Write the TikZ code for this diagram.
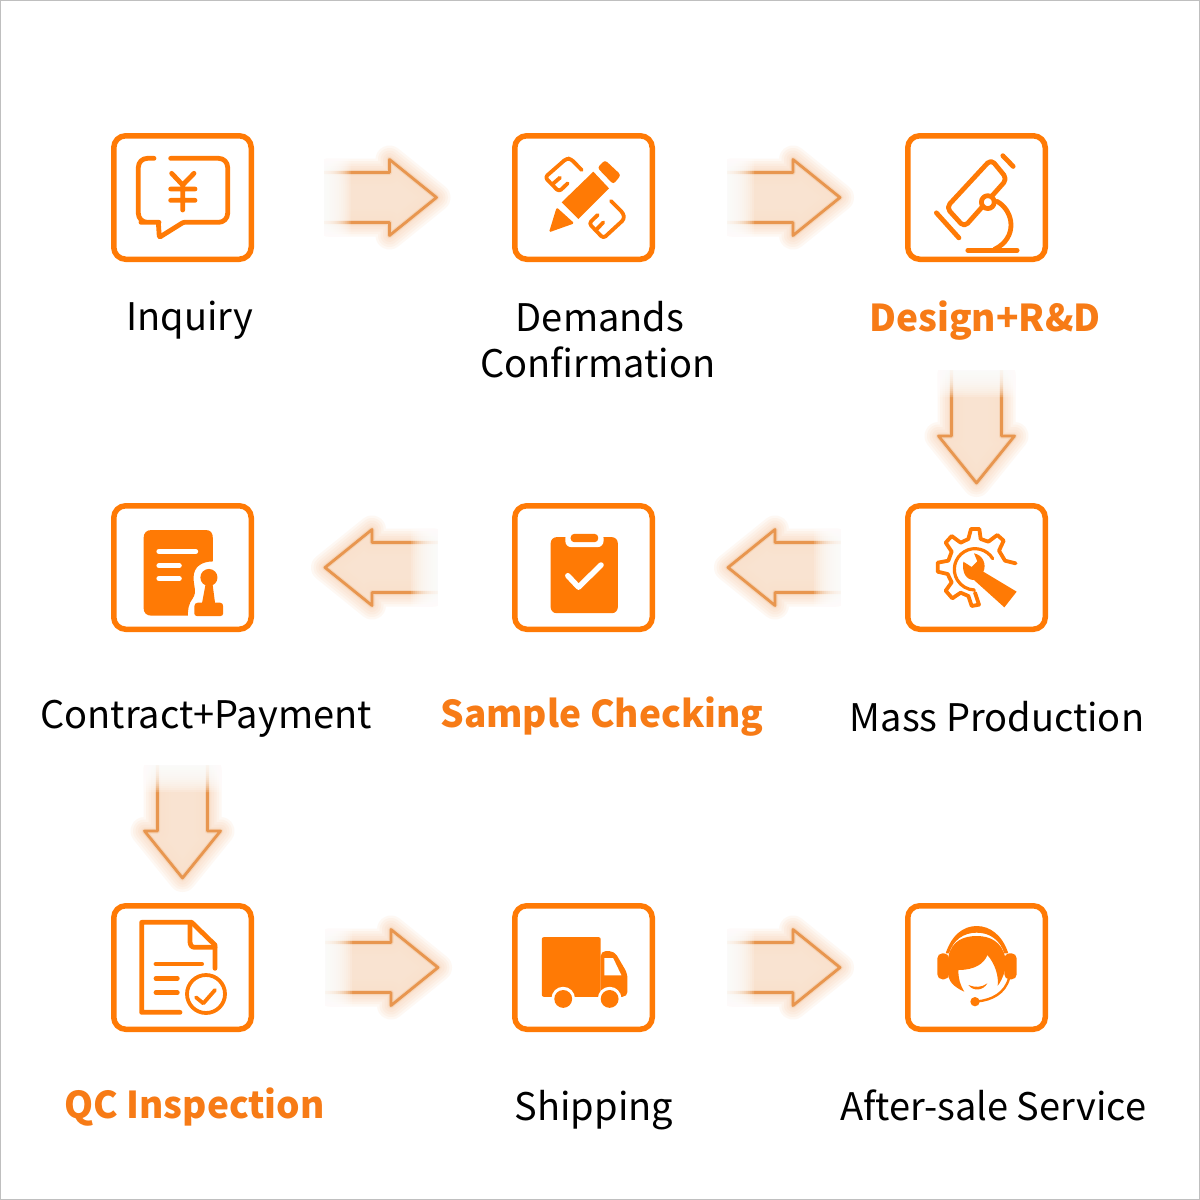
\documentclass[tikz,border=0pt]{standalone}
\usepackage{fontspec}
\setmainfont{Noto Sans CJK SC}
\usetikzlibrary{calc}
\definecolor{org}{HTML}{FF7A05}
\definecolor{txtorg}{HTML}{F77B16}
\definecolor{arrline}{HTML}{E8964F}
\definecolor{arrfill}{HTML}{F9E1CD}
\definecolor{arrglow}{HTML}{F6C49A}
\tikzset{
  iconbox/.style={draw=org,line width=5.5pt,rounded corners=12pt,minimum width=137.5pt,minimum height=123.5pt,inner sep=0pt,fill=white},
  lbl/.style={anchor=base,inner sep=0pt,text=black,font=\fontsize{38}{38}\selectfont},
  lblhot/.style={anchor=base,inner sep=0pt,text=txtorg,font=\fontsize{37}{37}\selectfont\bfseries},
  ln/.style={draw=org,line width=4.8pt,line cap=round,line join=round},
  thinln/.style={draw=org,line width=3.8pt,line cap=round,line join=round},
  wht/.style={draw=white,line width=4pt,line cap=round,line join=round},
}
\newcommand\arrowoutline{(-52,-25) -- (9,-25) -- (9,-38) -- (56,0) -- (9,38) -- (9,25) -- (-52,25)}
% block arrow between two named boxes: from, to, rotation, offset along it
\newcommand\blockarrow[4]{%
  \begin{scope}[shift={($(#1)!.5!(#2)$)},rotate=#3,shift={(#4,0)}]
    \foreach \w in {28,23,18,13,8}{\draw[arrglow,line width=\w pt,opacity=.11,line join=round] \arrowoutline -- cycle;}
    \fill[arrfill,opacity=.9] \arrowoutline -- cycle;
    \draw[arrline!60!white,line width=5pt,opacity=.4,line join=round] (-60,-25) -- (9,-25) -- (9,-38) -- (56,0) -- (9,38) -- (9,25) -- (-60,25);
    \draw[arrline,line width=2.8pt,line join=round] (-60,-25) -- (9,-25) -- (9,-38) -- (56,0) -- (9,38) -- (9,25) -- (-60,25);
    \fill[white] (-85,-62) rectangle (-57,62);
    \foreach \k in {0,2,...,26}{\fill[white,opacity=.17] (-57.5,-62) rectangle (-56+\k,-40) (-57.5,-40) rectangle (-56+\k,40) (-57.5,40) rectangle (-56+\k,62);}
  \end{scope}}
\begin{document}
\begin{tikzpicture}[x=1pt,y=-1pt]
\useasboundingbox (0,0) rectangle (1200,1200);
\fill[white] (0,0) rectangle (1200,1200);
\draw[black!25,line width=2pt] (0,0) rectangle (1200,1200);

% boxes
\node[iconbox] (b1) at (182.5,197.5) {};
\node[iconbox] (b2) at (583.5,197.5) {};
\node[iconbox] (b3) at (976.5,197.5) {};
\node[iconbox] (b4) at (182.5,567.5) {};
\node[iconbox] (b5) at (583.5,567.5) {};
\node[iconbox] (b6) at (976.5,567.5) {};
\node[iconbox] (b7) at (182.5,967.5) {};
\node[iconbox] (b8) at (583.5,967.5) {};
\node[iconbox] (b9) at (976.5,967.5) {};

% arrows
\blockarrow{b1}{b2}{0}{-2.5}
\blockarrow{b2}{b3}{0}{4}
\blockarrow{b3}{b6}{-90}{44.5}
\blockarrow{b6}{b5}{180}{-4}
\blockarrow{b5}{b4}{180}{2}
\blockarrow{b4}{b7}{-90}{54.5}
\blockarrow{b7}{b8}{0}{-1}
\blockarrow{b8}{b9}{0}{4}

% inquiry
\begin{scope}[shift={(100,120)},scale=1/3]
  \draw[ln,rounded corners=9pt] (162,115) -- (115,115) -- (115,307) -- (150,307) [rounded corners=1pt] -- (175,307) -- (178,352) -- (250,307) [rounded corners=9pt] -- (383,307) -- (383,115) -- (212,115);
  \draw[ln] (215,160) -- (248,195) -- (282,160) (212,207) -- (285,207) (212,241) -- (285,241) (248,195) -- (248,270);
\end{scope}

% pencil and rulers
\begin{scope}[shift={(535,145)},scale=1/3]
  \fill[org,rounded corners=1.5pt] (42,262) -- (65,187) -- (118,235) -- cycle;
  \fill[org] (80,172) -- (130,222) -- (222,130) -- (175,80) -- cycle;
  \fill[org,rounded corners=3pt] (187,68) -- (210,45) -- (258,90) -- (235,118) -- cycle;
  \draw[thinln,rounded corners=3pt] (140,75) -- (108,42) -- (95,40) -- (30,97) -- (72,140) -- (98,115);
  \draw[thinln] (52,118) -- (75,98);
  \draw[thinln,rounded corners=3pt] (228,168) -- (265,205) -- (268,222) -- (205,280) -- (162,235) -- (188,210);
  \draw[thinln] (183,255) -- (205,232);
\end{scope}

% microscope
\begin{scope}[shift={(500,120)},scale=1/2.8]
  \draw[ln,rounded corners=5pt] (1375,110) -- (1420,165) -- (1300,300) -- (1250,245) -- cycle;
  \draw[ln] (1408,100) -- (1437,130) (1222,260) -- (1285,330);
  \draw[ln] (1392,228) .. controls (1440,255) and (1450,330) .. (1385,362);
  \draw[ln] (1310,365) -- (1448,365);
  \draw[ln,fill=white] (1366,230) circle[radius=18];
\end{scope}

% contract
\begin{scope}[shift={(100,490)},scale=1/2.8]
  \fill[org] (145,112) -- (296,112) .. controls (310,112) and (316,120) .. (316,135) -- (316,200) .. controls (285,200) and (262,215) .. (262,245) .. controls (262,270) and (272,285) .. (260,303) .. controls (248,318) and (246,335) .. (246,352) -- (145,352) .. controls (130,352) and (122,344) .. (122,330) -- (122,135) .. controls (122,120) and (130,112) .. (145,112) -- cycle;
  \draw[wht,line width=5pt] (165,172) -- (268,172) (165,212) -- (222,212) (165,248) -- (222,248);
  \fill[org] (305,245) circle[radius=24];
  \fill[org] (296,262) -- (315,262) -- (322,315) -- (335,315) .. controls (342,315) and (345,320) .. (345,326) -- (345,345) .. controls (345,350) and (342,353) .. (337,353) -- (272,353) .. controls (267,353) and (264,350) .. (264,345) -- (264,326) .. controls (264,320) and (268,315) .. (275,315) -- (286,315) -- cycle;
\end{scope}

% clipboard
\begin{scope}[shift={(100,490)},scale=1/2.8]
  \fill[org,rounded corners=6pt] (1262,132) rectangle (1450,345);
  \fill[white,rounded corners=6pt] (1303,118) rectangle (1410,160);
  \fill[org,rounded corners=3.5pt] (1318,123) rectangle (1395,146);
  \draw[wht,line width=5.5pt] (1310,240) -- (1340,272) -- (1403,210);
\end{scope}

% gear and wrench
\begin{scope}[shift={(925,520)},scale=1/3]
  \draw[thinln] (272,130) -- (240,122) -- (222,92) -- (236,62) -- (217,45) -- (190,65) -- (167,57) -- (163,27) -- (138,27) -- (130,57) -- (107,68) -- (80,48) -- (62,68) -- (80,95) -- (70,122) -- (38,128) -- (38,155) -- (68,162) -- (80,187) -- (62,212) -- (82,235) -- (107,218) -- (130,228) -- (140,258) -- (162,254) -- (150,218);
  \draw[thinln,line width=3.2pt] (150,148) ++(-31:62) arc[start angle=-31,end angle=-268,radius=62];
  \fill[org] (147,100) .. controls (175,105) and (185,135) .. (175,155) -- (275,215) -- (238,262) -- (147,180) .. controls (125,180) and (110,160) .. (115,125) -- (140,141) -- (157,124) -- cycle;
\end{scope}

% QC document
\begin{scope}[shift={(100,760)},scale=1/3]
  \draw[ln] (345,625) -- (345,555) -- (275,487) -- (125,487) -- (125,757) -- (240,757);
  \draw[ln] (270,490) -- (270,545) .. controls (270,555) and (275,562) .. (285,562) -- (345,562);
  \draw[ln] (168,612) -- (305,612) (168,655) -- (232,655) (168,698) -- (232,698);
  \draw[ln,line width=3.8pt] (318,702) circle[radius=57];
  \draw[ln,line width=3.8pt] (288,712) -- (310,730) -- (345,690);
\end{scope}

% truck
\begin{scope}[shift={(500,895)},scale=1/2.8]
  \fill[org,rounded corners=2pt] (117,118) rectangle (282,285);
  \fill[org,rounded corners=5pt] (282,157) -- (320,157) -- (357,220) -- (357,285) -- (282,285) -- cycle;
  \fill[white] (292,177) -- (317,177) -- (340,225) -- (292,225) -- cycle;
  \fill[white] (177,290) circle[radius=33] (307,290) circle[radius=33];
  \fill[white] (144,290) rectangle (210,320) (274,290) rectangle (340,320);
  \fill[org] (177,291) circle[radius=25] (307,291) circle[radius=25];
\end{scope}

% headset
\begin{scope}[shift={(925,920)},scale=1/3]
  \fill[org] (62,100) .. controls (80,45) and (115,18) .. (155,18) .. controls (195,18) and (232,45) .. (250,100) -- (238,100) .. controls (225,60) and (195,38) .. (155,38) .. controls (115,38) and (85,60) .. (72,100) -- cycle;
  \fill[org] (70,110) .. controls (80,60) and (120,48) .. (155,48) .. controls (195,48) and (230,65) .. (240,110) -- (240,150) .. controls (235,170) and (225,190) .. (218,197) .. controls (222,170) and (210,130) .. (187,105) .. controls (178,130) and (150,150) .. (100,150) .. controls (100,175) and (105,195) .. (118,215) .. controls (95,205) and (75,190) .. (70,170) -- cycle;
  \fill[org,rounded corners=5pt] (37,100) rectangle (72,178) (238,100) rectangle (275,178);
  \fill[org] (130,195) .. controls (145,215) and (175,212) .. (187,190) .. controls (170,203) and (150,203) .. (130,195) -- cycle;
  \draw[org,line width=2.4pt] (252,175) .. controls (240,220) and (200,240) .. (158,244);
  \fill[org] (150,245) circle[radius=14];
\end{scope}

% labels
\node[lbl] (t1) at (190,330) {Inquiry};
\node[lbl] (t2a) at (600,331) {Demands};
\node[lbl] (t2b) at (598,377) {Confirmation};
\node[lblhot] (t3) at (985,331) {Design+R\&D};
\node[lbl] (t4) at (206,728) {Contract+Payment};
\node[lblhot] (t5) at (602,727) {Sample Checking};
\node[lbl] (t6) at (997,731) {Mass Production};
\node[lblhot] (t7) at (194.5,1118) {QC Inspection};
\node[lbl] (t8) at (594,1120) {Shipping};
\node[lbl] (t9) at (993.5,1120) {After-sale Service};
\end{tikzpicture}
\end{document}
